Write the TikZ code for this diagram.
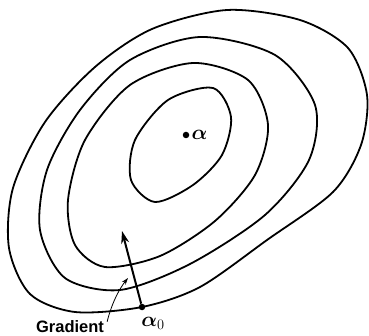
\documentclass[tikz,border=0pt]{standalone}
\usepackage{amsmath}
\usepackage{fontspec}
\newfontfamily\gradfont{Liberation Sans}
\usetikzlibrary{arrows.meta,positioning}
\tikzset{
  levelln/.style={line width=1.8pt, line join=round},
  gradln/.style={-{Stealth[length=4.4mm,width=2.8mm]}, line width=2pt},
  pointln/.style={-{Stealth[length=2.4mm,width=1.6mm]}, line width=0.8pt},
  ptdot/.style={circle, fill, inner sep=0pt, minimum size=6.5pt},
  mathlbl/.style={font=\fontsize{20}{22}\selectfont, inner sep=1pt},
}
\begin{document}
\begin{tikzpicture}[x=1pt, y=-1pt]
    \useasboundingbox (0,0) rectangle (369,336);
    % level curves, outside to inside
    \draw[levelln] plot[smooth cycle] coordinates {(227,10) (300,20) (348,48) (367,95) (361,145) (333,192) (267,240) (200,287) (142,307) (75,312) (30,294) (9,248) (13,188) (45,122) (95,67) (152,29)};
    \draw[levelln] plot[smooth cycle] coordinates {(200,37) (275,55) (315,105) (309,160) (265,215) (190,264) (120,290) (65,278) (40,230) (47,170) (80,110) (130,60)};
    \draw[levelln] plot[smooth cycle] coordinates {(193,63) (248,80) (268,125) (255,175) (215,221) (160,256) (105,267) (75,245) (68,200) (85,140) (130,85)};
    \draw[levelln] plot[smooth cycle] coordinates {(213,88) (231,117) (222,155) (193,185) (155,202) (131,180) (135,140) (168,100)};
    % minimum
    \node[ptdot] (amin) at (186,135) {};
    \node[mathlbl, right=1pt of amin] (aminlbl) {$\boldsymbol{\alpha}$};
    % start point + gradient
    \node[ptdot] (a0) at (142,307) {};
    \node[mathlbl] (a0lbl) at (153,323) {$\boldsymbol{\alpha}_0$};
    \coordinate (gtip) at (122,231);
    \draw[gradln] (a0) -- (gtip);
    \node[font=\gradfont\bfseries\fontsize{16.5}{18}\selectfont, inner sep=1pt] (gradlbl) at (70,327) {Gradient};
    \coordinate (gpt) at (128,278);
    \draw[pointln] ([xshift=2pt,yshift=-2pt]gradlbl.north east) .. controls (112,302) and (120,288) .. (gpt);
\end{tikzpicture}
\end{document}
